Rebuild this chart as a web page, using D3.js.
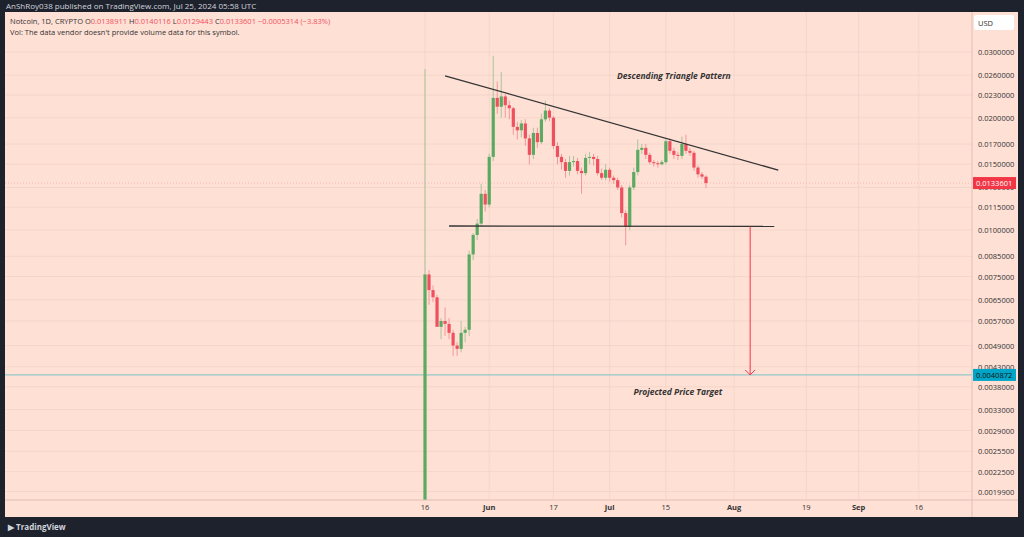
<!DOCTYPE html>
<html><head><meta charset="utf-8">
<script src="https://cdn.jsdelivr.net/npm/d3@7"></script>
<style>body{margin:0;background:#1e222d;overflow:hidden}svg{display:block;font-family:"Open Sans",Roboto,sans-serif}</style>
</head><body>
<script>
// daily candles from 2024-05-16: [open, high, low, close]
const startDate = new Date(Date.UTC(2024, 4, 16));
const candles = [
  [0.0016,0.0270,0.0015,0.0076],[0.0076,0.0078,0.0063,0.0069],[0.0069,0.0071,0.0064,0.0066],[0.0066,0.0067,0.0055,0.0055],
  [0.0055,0.0058,0.0051,0.0057],[0.0057,0.0062,0.0052,0.0056],[0.0056,0.0058,0.0051,0.0053],[0.0053,0.0054,0.0046,0.0049],
  [0.0049,0.0050,0.0046,0.0048],[0.0048,0.0057,0.0047,0.0053],[0.0053,0.0055,0.0050,0.0054],[0.0054,0.0088,0.0052,0.0086],
  [0.0086,0.0098,0.0083,0.0097],[0.0097,0.0107,0.0094,0.0104],[0.0104,0.0133,0.0102,0.0125],[0.0125,0.0128,0.0112,0.0117],
  [0.0117,0.0160,0.0115,0.0157],[0.0157,0.0293,0.0153,0.0226],[0.0226,0.0250,0.0205,0.0214],[0.0214,0.0265,0.0200,0.0228],
  [0.0228,0.0231,0.0200,0.0216],[0.0216,0.0222,0.0198,0.0212],[0.0212,0.0214,0.0180,0.0189],[0.0189,0.0195,0.0175,0.0185],
  [0.0185,0.0197,0.0177,0.0193],[0.0193,0.0198,0.0168,0.0176],[0.0176,0.0180,0.0150,0.0159],[0.0159,0.0188,0.0155,0.0182],
  [0.0182,0.0188,0.0166,0.0172],[0.0172,0.0205,0.0170,0.0198],[0.0198,0.0222,0.0195,0.0209],[0.0209,0.0212,0.0196,0.0200],
  [0.0200,0.0202,0.0165,0.0168],[0.0168,0.0172,0.0150,0.0157],[0.0157,0.0160,0.0145,0.0152],[0.0152,0.0155,0.0138,0.0144],
  [0.0144,0.0158,0.0140,0.0152],[0.0152,0.0158,0.0148,0.0153],[0.0153,0.0156,0.0141,0.0144],[0.0144,0.0147,0.0125,0.0142],
  [0.0142,0.0160,0.0140,0.0156],[0.0156,0.0162,0.0150,0.0157],[0.0157,0.0160,0.0149,0.0155],[0.0155,0.0158,0.0140,0.0142],
  [0.0142,0.0146,0.0136,0.0138],[0.0138,0.0150,0.0136,0.0145],[0.0145,0.0147,0.0135,0.0138],[0.0138,0.0140,0.0133,0.0136],
  [0.0136,0.0138,0.0128,0.0130],[0.0130,0.0132,0.0108,0.0111],[0.0111,0.0113,0.0091,0.0102],[0.0102,0.0132,0.0100,0.0130],
  [0.0130,0.0147,0.0128,0.0143],[0.0143,0.0175,0.0140,0.0164],[0.0164,0.0170,0.0160,0.0166],[0.0166,0.0170,0.0155,0.0159],
  [0.0159,0.0161,0.0150,0.0152],[0.0152,0.0154,0.0148,0.0151],[0.0151,0.0153,0.0147,0.0150],[0.0150,0.0154,0.0149,0.0152],
  [0.0152,0.0176,0.0150,0.0173],[0.0173,0.0176,0.0160,0.0163],[0.0163,0.0166,0.0155,0.0159],[0.0159,0.0162,0.0154,0.0158],
  [0.0158,0.0178,0.0155,0.0170],[0.0170,0.0180,0.0160,0.0163],[0.0163,0.0166,0.0158,0.0161],[0.0161,0.0163,0.0144,0.0147],
  [0.0147,0.0149,0.0138,0.0141],[0.0141,0.0143,0.0137,0.0139],[0.0138911,0.0140116,0.0129443,0.0133601]
];
const priceTicks = [0.03,0.026,0.023,0.02,0.017,0.015,0.013,0.0115,0.01,0.0085,0.0075,0.0065,0.0057,0.0049,0.0043,0.0038,0.0033,0.0029,0.00255,0.00225,0.00199];
const timeTicks = [["2024-05-16","16"],["2024-06-01","Jun"],["2024-06-17","17"],["2024-07-01","Jul"],["2024-07-15","15"],["2024-08-01","Aug"],["2024-08-19","19"],["2024-09-01","Sep"],["2024-09-16","16"]];
const lastPrice = 0.0133601, targetPrice = 0.0040872;
const resistance = [["2024-05-21",0.0259],["2024-08-12",0.01447]];
const support = [["2024-05-22",0.01025],["2024-08-11",0.01022]];
const arrowDate = "2024-08-05";

const W = 1024, H = 537;
const panel = {x:5, y:12, w:1013, h:505};
const plot = {l:5, r:972, t:12, b:500};
const bg = "#fee0d5", grid = "#f3d3c8", up = "#5aab61", down = "#f0505e";

const svg = d3.select("body").append("svg").attr("width", W).attr("height", H);
const x = d3.scaleUtc().domain([startDate, new Date(Date.UTC(2024,6,25))]).range([425, 706]);
const y = d3.scaleLog().domain([0.03*Math.exp(40/162), 0.03*Math.exp(-448/162)]).range([plot.t, plot.b]);
const day = i => new Date(startDate.getTime() + i*864e5);
const pd = s => new Date(s + "T00:00:00Z");

svg.append("text").attr("x",6).attr("y",9).attr("fill","#d1d4dc").attr("font-size",8).text("AnShRoy038 published on TradingView.com, Jul 25, 2024 05:58 UTC");
svg.append("rect").attr("x",panel.x).attr("y",panel.y).attr("width",panel.w).attr("height",panel.h).attr("fill",bg);
svg.append("defs").append("clipPath").attr("id","c").append("rect").attr("x",plot.l).attr("y",plot.t).attr("width",plot.r-plot.l).attr("height",plot.b-plot.t);

// grid
const g = svg.append("g").attr("clip-path","url(#c)");
g.selectAll(".hg").data(priceTicks).join("line").attr("x1",plot.l).attr("x2",plot.r).attr("y1",d=>y(d)).attr("y2",d=>y(d)).attr("stroke",grid).attr("stroke-width",0.8);
g.selectAll(".vg").data(timeTicks).join("line").attr("x1",d=>x(pd(d[0]))).attr("x2",d=>x(pd(d[0]))).attr("y1",plot.t).attr("y2",plot.b).attr("stroke",grid).attr("stroke-width",0.8);

// target line
g.append("line").attr("x1",plot.l).attr("x2",plot.r).attr("y1",y(targetPrice)).attr("y2",y(targetPrice)).attr("stroke","#7cc3c6").attr("stroke-width",1);
g.append("line").attr("x1",plot.l).attr("x2",plot.r).attr("y1",y(lastPrice)).attr("y2",y(lastPrice)).attr("stroke","#f0a0a0").attr("stroke-dasharray","1,2").attr("stroke-width",0.6);

// candles
const cg = g.selectAll(".cd").data(candles).join("g");
cg.append("line").attr("x1",(d,i)=>x(day(i))).attr("x2",(d,i)=>x(day(i))).attr("y1",d=>y(d[1])).attr("y2",d=>y(d[2]))
  .attr("stroke",d=>d[3]>=d[0]?up:down).attr("stroke-opacity",0.5).attr("stroke-width",1);
cg.append("rect").attr("x",(d,i)=>x(day(i))-1.6).attr("width",3.2)
  .attr("y",d=>y(Math.max(d[0],d[3]))).attr("height",d=>Math.max(1,Math.abs(y(d[0])-y(d[3]))))
  .attr("fill",d=>d[3]>=d[0]?up:down);

// drawings
const line = d3.line().x(d=>x(pd(d[0]))).y(d=>y(d[1]));
g.append("path").attr("d",line(resistance)).attr("stroke","#333").attr("stroke-width",1.3).attr("fill","none");
g.append("path").attr("d",line(support)).attr("stroke","#333").attr("stroke-width",1.3).attr("fill","none");
const ax = x(pd(arrowDate));
g.append("line").attr("x1",ax).attr("x2",ax).attr("y1",y(support[1][1])).attr("y2",y(targetPrice)).attr("stroke","#f23645").attr("stroke-width",1);
g.append("path").attr("d",`M${ax-5},${y(targetPrice)-5}L${ax},${y(targetPrice)}L${ax+5},${y(targetPrice)-5}`).attr("stroke","#f23645").attr("fill","none");
g.append("text").attr("x",x(pd("2024-07-17"))).attr("y",y(0.0254)).attr("text-anchor","middle").attr("font-size",8.5).attr("font-style","italic").attr("font-weight","bold").attr("fill","#333").text("Descending Triangle Pattern");
g.append("text").attr("x",x(pd("2024-07-18"))).attr("y",y(0.0036)).attr("text-anchor","middle").attr("font-size",8.5).attr("font-style","italic").attr("font-weight","bold").attr("fill","#333").text("Projected Price Target");

// legend
const lg = svg.append("text").attr("x",10).attr("y",24).attr("font-size",7.5).attr("fill","#333");
lg.append("tspan").text("Notcoin, 1D, CRYPTO  O");
lg.append("tspan").attr("fill",down).text("0.0138911");
lg.append("tspan").text(" H");
lg.append("tspan").attr("fill",down).text("0.0140116");
lg.append("tspan").text(" L");
lg.append("tspan").attr("fill",down).text("0.0129443");
lg.append("tspan").text(" C");
lg.append("tspan").attr("fill",down).text("0.0133601  −0.0005314 (−3.83%)");
svg.append("text").attr("x",10).attr("y",35).attr("font-size",7.5).attr("fill","#333").text("Vol: The data vendor doesn't provide volume data for this symbol.");

// axes borders
svg.append("line").attr("x1",plot.r).attr("x2",plot.r).attr("y1",panel.y).attr("y2",panel.y+panel.h).attr("stroke","#e0bfb4");
svg.append("line").attr("x1",panel.x).attr("x2",panel.x+panel.w).attr("y1",plot.b).attr("y2",plot.b).attr("stroke","#e0bfb4");

// price axis
svg.append("g").selectAll("text").data(priceTicks).join("text").attr("x",978).attr("y",d=>y(d)+3).attr("font-size",7.5).attr("fill","#333")
  .text(d=>d.toFixed(7));
svg.append("rect").attr("x",974).attr("y",15).attr("width",40).attr("height",15).attr("fill","#fff").attr("rx",2);
svg.append("text").attr("x",978).attr("y",26).attr("font-size",7.5).attr("fill","#333").text("USD");
[[lastPrice,"#f23645"],[targetPrice,"#00a5c8"]].forEach(([p,c])=>{
  svg.append("rect").attr("x",973).attr("y",y(p)-6).attr("width",43).attr("height",12).attr("fill",c);
  svg.append("text").attr("x",976).attr("y",y(p)+3).attr("font-size",7.5).attr("fill",c==="#f23645"?"#fff":"#111").text(p.toFixed(7));
});

// time axis
svg.append("g").selectAll("text").data(timeTicks).join("text").attr("x",d=>x(pd(d[0]))).attr("y",510).attr("text-anchor","middle")
  .attr("font-size",7.5).attr("fill","#333").attr("font-weight",d=>/^\d/.test(d[1])?"normal":"bold").text(d=>d[1]);

svg.append("text").attr("x",8).attr("y",530).attr("font-size",8).attr("fill","#d1d4dc").attr("font-weight","bold").text("▶ TradingView");
</script>
</body></html>
